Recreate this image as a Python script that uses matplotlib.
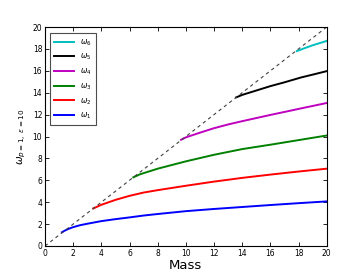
import matplotlib
matplotlib.use('Agg')
import matplotlib.pyplot as plt

# Values (Mass vs omega_n, p=1, eps=10)
m1 = [1.2, 1.4, 1.7, 2, 2.5, 3, 4, 5, 6, 7, 8, 10, 12, 14, 16, 18, 20]
w1 = [1.25, 1.4, 1.58, 1.72, 1.9, 2.03, 2.27, 2.45, 2.61, 2.78, 2.92, 3.18, 3.38, 3.56, 3.74, 3.91, 4.07]

m2 = [3.43, 4, 5, 6, 7, 8, 10, 12, 14, 16, 18, 20]
w2 = [3.43, 3.76, 4.21, 4.58, 4.88, 5.1, 5.5, 5.88, 6.22, 6.52, 6.8, 7.06]

m3 = [6.27, 6.75, 8, 10, 12, 14, 16, 18, 20]
w3 = [6.27, 6.55, 7.06, 7.73, 8.33, 8.85, 9.25, 9.67, 10.09]

m4 = [9.66, 10, 11, 12, 13, 14, 16, 17.5, 18, 20]
w4 = [9.7, 9.92, 10.35, 10.76, 11.1, 11.4, 11.97, 12.38, 12.52, 13.06]

m5 = [13.57, 14, 15, 16, 17, 17.8, 18.2, 19, 20]
w5 = [13.57, 13.8, 14.2, 14.6, 14.95, 15.25, 15.4, 15.65, 15.97]

m6 = [17.88, 18.5, 19, 19.5, 20]
w6 = [17.8, 18.1, 18.33, 18.53, 18.73]

diag = [0, 20]

labels = [r'$\omega_1$', r'$\omega_2$', r'$\omega_3$', r'$\omega_4$', r'$\omega_5$', r'$\omega_6$']
colors = ['#0000ff', '#ff0000', '#008000', '#bf00bf', '#000000', '#00bfbf']

fig = plt.figure(figsize=(3.63, 2.73), dpi=100)
ax = fig.add_axes([0.124, 0.099, 0.776, 0.802])

series = [(m1, w1), (m2, w2), (m3, w3), (m4, w4), (m5, w5), (m6, w6)]
lines = []
for (m, w), c, lab in zip(series, colors, labels):
    ln, = ax.plot(m, w, color=c, lw=1.4, label=lab)
    lines.append(ln)

ax.plot(diag, diag, '--', color='0.25', lw=0.8, dashes=(3, 3))

ax.set_xlim(0, 20)
ax.set_ylim(0, 20)
ax.set_xticks(range(0, 21, 2))
ax.set_yticks(range(0, 21, 2))
ax.tick_params(direction='in', top=True, right=True, labelsize=5.5, length=3, width=0.6, pad=2)
for s in ax.spines.values():
    s.set_linewidth(0.8)

ax.set_xlabel('Mass', fontsize=9.5, labelpad=1)
ax.set_ylabel(r'$\omega_{p=1,\ \epsilon=10}$', fontsize=7.5, labelpad=3)

leg = ax.legend(lines[::-1], labels[::-1], loc='upper left', fontsize=5.5,
                handlelength=2.6, handletextpad=0.8, labelspacing=0.55,
                borderpad=0.55, fancybox=False, framealpha=1, edgecolor='0.3',
                bbox_to_anchor=(0.005, 0.99))
leg.get_frame().set_linewidth(0.8)

fig.savefig('out.png', dpi=100, facecolor='white')
